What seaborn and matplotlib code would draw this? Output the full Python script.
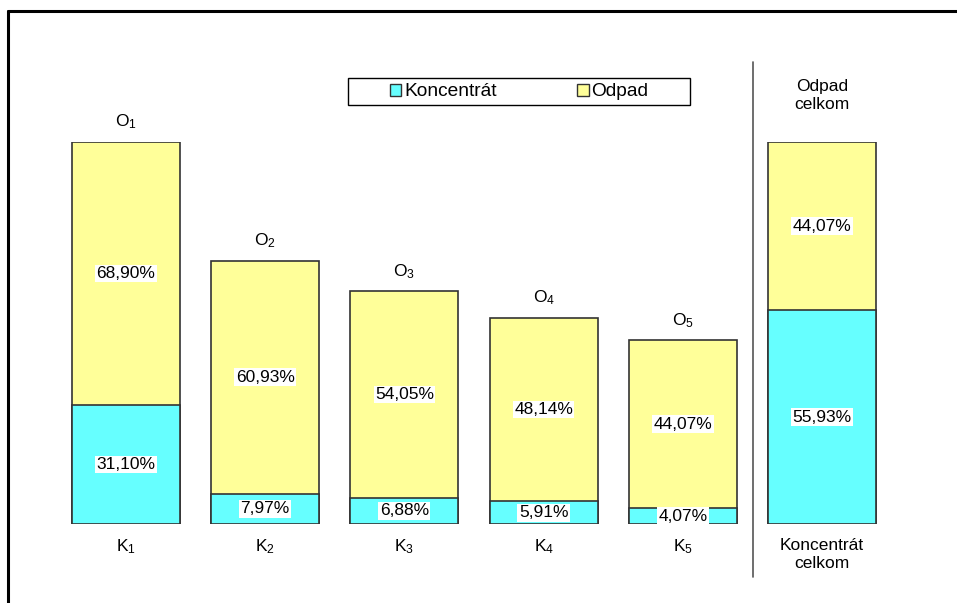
import matplotlib
matplotlib.use("Agg")
import matplotlib.pyplot as plt
import seaborn as sns
import pandas as pd
from matplotlib.patches import Patch, Rectangle
from matplotlib.lines import Line2D

sns.set_theme(style="white")
plt.rcParams['font.family'] = ['Liberation Sans', 'DejaVu Sans']
plt.rcParams['mathtext.fontset'] = 'custom'
plt.rcParams['mathtext.rm'] = 'Liberation Sans'
plt.rcParams['mathtext.it'] = 'Liberation Sans'
plt.rcParams['text.color'] = 'black'

categories = ["1", "2", "3", "4", "5", "celkom"]
koncentrat = [31.10, 7.97, 6.88, 5.91, 4.07, 55.93]
odpad = [68.90, 60.93, 54.05, 48.14, 44.07, 44.07]
top_labels = ["$\\mathrm{O}_1$", "$\\mathrm{O}_2$", "$\\mathrm{O}_3$", "$\\mathrm{O}_4$", "$\\mathrm{O}_5$", "Odpad\ncelkom"]
bottom_labels = ["$\\mathrm{K}_1$", "$\\mathrm{K}_2$", "$\\mathrm{K}_3$", "$\\mathrm{K}_4$", "$\\mathrm{K}_5$", "Koncentrát\ncelkom"]
k_text = ["31,10%", "7,97%", "6,88%", "5,91%", "4,07%", "55,93%"]
o_text = ["68,90%", "60,93%", "54,05%", "48,14%", "44,07%", "44,07%"]

C_CYAN = "#66FFFF"
C_YEL = "#FFFF99"

df = pd.DataFrame({"cat": categories, "K": koncentrat, "O": odpad})
df["T"] = df["K"] + df["O"]

fig = plt.figure(figsize=(9.57, 6.03), dpi=100)
ax = fig.add_axes([56.4 / 957, 79 / 603, 835.2 / 957, 382 / 603])

sns.barplot(data=df, x="cat", y="T", color=C_YEL, saturation=1, width=0.777,
            edgecolor="#333333", linewidth=1.2, ax=ax)
sns.barplot(data=df, x="cat", y="K", color=C_CYAN, saturation=1, width=0.777,
            edgecolor="#333333", linewidth=1.2, ax=ax)

ax.set_xlim(-0.5, 5.5)
ax.set_ylim(0, 100)
ax.set_xlabel("")
ax.set_ylabel("")
ax.set_xticks([])
ax.set_yticks([])
for s in ax.spines.values():
    s.set_visible(False)

fs = 12.5
box = dict(facecolor="white", edgecolor="none", pad=1.0)
for i in range(len(categories)):
    k = df["K"][i]
    t = df["T"][i]
    ax.text(i, k / 2, k_text[i], ha="center", va="center", fontsize=fs, bbox=box)
    ax.text(i, k + (t - k) / 2, o_text[i], ha="center", va="center", fontsize=fs, bbox=box)
    if i < 5:
        ax.text(i, t + 5.2, top_labels[i], ha="center", va="center", fontsize=fs, clip_on=False)
        ax.text(i, -5.8, bottom_labels[i], ha="center", va="center", fontsize=fs, clip_on=False)
    else:
        ax.text(i, 112.3, top_labels[i], ha="center", va="center", fontsize=fs,
                linespacing=1.25, clip_on=False)
        ax.text(i, -7.9, bottom_labels[i], ha="center", va="center", fontsize=fs,
                linespacing=1.25, clip_on=False)

ax.plot([4.504, 4.504], [-13.9, 120.9], color="#555555", lw=1.2, clip_on=False)

# legend
fig.add_artist(Rectangle((348 / 957, 1 - 105 / 603), 342 / 957, 27 / 603,
                         transform=fig.transFigure, facecolor="white",
                         edgecolor="black", lw=1.0, zorder=4))
handles = [Patch(facecolor=C_CYAN, edgecolor="#333333", label="Koncentrát"),
           Patch(facecolor=C_YEL, edgecolor="#333333", label="Odpad")]
leg = fig.legend(handles=handles, loc="center", bbox_to_anchor=(519 / 957, 1 - 92 / 603),
                 ncol=2, frameon=False, fontsize=13.8, handlelength=0.6,
                 handleheight=0.6, handletextpad=0.15, columnspacing=4.2,
                 borderpad=0.3, borderaxespad=0)
leg.set_zorder(5)
for t in leg.get_texts():
    t.set_color("black")

fig.add_artist(Line2D([8 / 957, 1], [1 - 11 / 603, 1 - 11 / 603], color="black", lw=2.2))
fig.add_artist(Line2D([8 / 957, 8 / 957], [0, 1 - 11 / 603], color="black", lw=2.2))

fig.savefig("out.png", dpi=100, facecolor="white")
